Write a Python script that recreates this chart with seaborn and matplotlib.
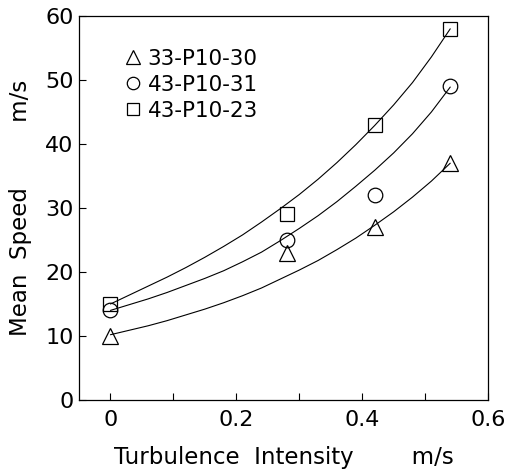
import matplotlib
matplotlib.use("Agg")
import matplotlib.pyplot as plt
from matplotlib.ticker import MultipleLocator
import seaborn as sns

# measured points
intensity = [0.0, 0.28, 0.42, 0.54]
speed_33_p10_30 = [10, 23, 27, 37]
speed_43_p10_31 = [14, 25, 32, 49]
speed_43_p10_23 = [15, 29, 43, 58]

# fitted curves
curve_x = [0.0, 0.03, 0.06, 0.09, 0.12, 0.15, 0.18, 0.21, 0.24, 0.27,
           0.30, 0.33, 0.36, 0.39, 0.42, 0.45, 0.48, 0.51, 0.54]
curve_33_p10_30 = [10.2, 10.9, 11.6, 12.4, 13.3, 14.2, 15.2, 16.3, 17.5, 18.9,
                   20.3, 21.8, 23.5, 25.3, 27.3, 29.4, 31.7, 34.2, 37.0]
curve_43_p10_31 = [14.0, 14.9, 15.8, 16.8, 17.9, 19.0, 20.2, 21.6, 23.1, 24.9,
                   26.8, 28.8, 31.0, 33.4, 35.9, 38.6, 41.6, 45.0, 48.9]
curve_43_p10_23 = [15.0, 16.4, 17.8, 19.2, 20.7, 22.3, 24.0, 25.8, 27.8, 29.9,
                   32.1, 34.5, 37.1, 39.9, 42.9, 46.1, 49.6, 53.6, 58.0]

names = ["33-P10-30", "43-P10-31", "43-P10-23"]
markers = ["^", "o", "s"]
points = [speed_33_p10_30, speed_43_p10_31, speed_43_p10_23]
curves = [curve_33_p10_30, curve_43_p10_31, curve_43_p10_23]

sns.set_style("ticks")
plt.rcParams["font.family"] = ["DejaVu Sans"]
plt.rcParams["text.color"] = "k"
plt.rcParams["axes.labelcolor"] = "k"

fig, ax = plt.subplots(figsize=(5.07, 4.71), dpi=100)
fig.subplots_adjust(left=79 / 507, right=488 / 507,
                    bottom=1 - 400 / 471, top=1 - 16 / 471)

handles = []
for name, m, pts, cv in zip(names, markers, points, curves):
    sns.lineplot(x=curve_x, y=cv, ax=ax, color="k", linewidth=0.8)
    sns.lineplot(x=intensity, y=pts, ax=ax, color="k", linestyle="",
                 marker=m, markersize=10.5 if m != "^" else 11.5,
                 markerfacecolor="none", markeredgecolor="k",
                 markeredgewidth=0.9)
    handles.append(ax.lines[-1])

ax.set_xlim(-0.05, 0.6)
ax.set_ylim(0, 60)
ax.xaxis.set_major_locator(MultipleLocator(0.2))
ax.xaxis.set_minor_locator(MultipleLocator(0.1))
ax.yaxis.set_major_locator(MultipleLocator(10))
ax.xaxis.set_major_formatter(plt.FuncFormatter(
    lambda v, p: "0" if abs(v) < 1e-9 else f"{v:.1f}"))

ax.tick_params(axis="both", which="both", direction="in", length=5,
               width=0.8, labelsize=16, colors="k")
ax.tick_params(axis="x", pad=7)
ax.tick_params(axis="y", pad=4)

for s in ax.spines.values():
    s.set_visible(True)
    s.set_linewidth(0.9)
    s.set_color("k")

ax.set_xlabel("Turbulence  Intensity        m/s", fontsize=16.5, labelpad=12)
ax.set_ylabel("Mean  Speed         m/s", fontsize=16.5, labelpad=9)

leg = ax.legend(handles, names, loc="upper left", bbox_to_anchor=(0.11, 0.915),
                frameon=False, fontsize=15.5, handlelength=0.8,
                handletextpad=0.3, labelspacing=0.28, borderpad=0,
                borderaxespad=0, markerscale=0.85)
for t in leg.get_texts():
    t.set_color("k")

fig.savefig("out.png", dpi=100)
